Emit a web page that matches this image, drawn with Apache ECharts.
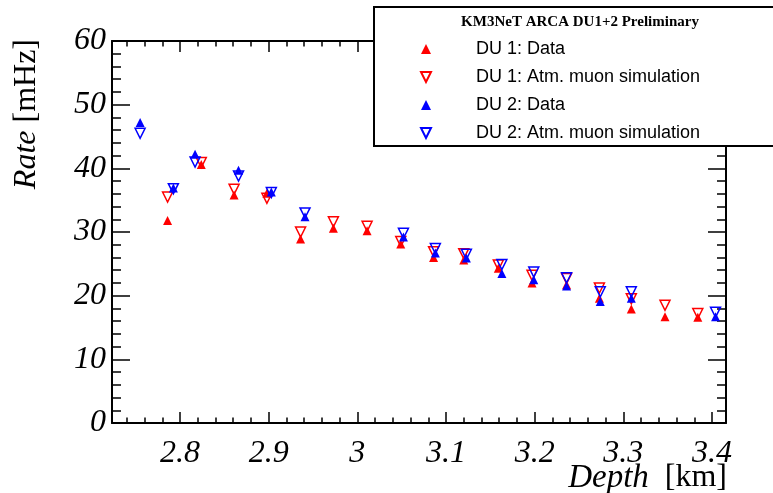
<!DOCTYPE html>
<html>
<head>
<meta charset="utf-8">
<script src="https://cdn.jsdelivr.net/npm/echarts@6/dist/echarts.min.js"></script>
<style>html,body{margin:0;padding:0;background:#fff;}#c{width:773px;height:493px;}</style>
</head>
<body>
<div id="c"></div>
<script>
// ---- data ----
const du1Depth = [2.786, 2.824, 2.861, 2.898, 2.936, 2.973, 3.011, 3.049, 3.086, 3.120, 3.159, 3.197, 3.236, 3.273, 3.309, 3.347, 3.384];
const du1Data  = [31.8, 40.6, 35.8, 36.1, 28.9, 30.6, 30.2, 28.1, 26.0, 25.6, 24.3, 22.0, 21.7, 19.6, 17.9, 16.7, 16.6];
const du1Sim   = [35.5, 40.9, 36.7, 35.3, 30.0, 31.6, 30.9, 28.5, 26.9, 26.6, 24.8, 23.2, 22.7, 21.2, 19.5, 18.5, 17.2];
const du2Depth = [2.755, 2.7925, 2.817, 2.866, 2.903, 2.941, 3.052, 3.088, 3.123, 3.163, 3.199, 3.236, 3.274, 3.309, 3.404];
const du2Data  = [47.2, 36.9, 42.2, 39.7, 36.3, 32.4, 29.2, 26.7, 25.9, 23.5, 22.5, 21.5, 19.1, 19.6, 16.7];
const du2Sim   = [45.5, 36.8, 41.0, 38.8, 36.2, 33.0, 29.8, 27.4, 26.5, 24.9, 23.7, 22.8, 20.6, 20.6, 17.4];
const seriesNames = ['DU 1: Data', 'DU 1: Atm. muon simulation', 'DU 2: Data', 'DU 2: Atm. muon simulation'];
const legendTitle = 'KM3NeT ARCA DU1+2 Preliminary';
const xTitle = 'Depth', xUnit = '[km]';
const yTitle = 'Rate', yUnit = '[mHz]';
const xMin = 2.7233, xMax = 3.4158, yMin = 0, yMax = 60;

const zip = (xs, ys) => xs.map((x, i) => [x, ys[i]]);
const downTri = 'path://M0,0 L20,0 L10,20 Z';
const serif = 'Liberation Serif';
const sans = 'Liberation Sans';

function xAx(pos, step, len, labels, line) {
  return {
    type: 'value', position: pos, min: xMin, max: xMax,
    minInterval: step, maxInterval: step,
    axisLine: {show: line, onZero: false, lineStyle: {color: '#000', width: 2}},
    axisTick: {show: true, inside: true, length: len, lineStyle: {color: '#000', width: 1.5}},
    axisLabel: {show: labels, showMinLabel: false, showMaxLabel: false, margin: 15,
      fontFamily: serif, fontStyle: 'italic', fontSize: 32, color: '#000'},
    splitLine: {show: false}
  };
}
function yAx(pos, labels) {
  return {
    type: 'value', position: pos, min: yMin, max: yMax, interval: 10,
    axisLine: {show: true, onZero: false, lineStyle: {color: '#000', width: 2}},
    axisTick: {show: true, inside: true, length: 18, lineStyle: {color: '#000', width: 1.5}},
    minorTick: {show: true, splitNumber: 5, length: 9, lineStyle: {color: '#000', width: 1.5}},
    axisLabel: {show: labels, margin: 6, fontFamily: serif, fontStyle: 'italic', fontSize: 32, color: '#000'},
    splitLine: {show: false}
  };
}

const chart = echarts.init(document.getElementById('c'), null, {renderer: 'canvas'});
chart.setOption({
  animation: false,
  backgroundColor: '#fff',
  grid: {left: 112, right: 47, top: 41, bottom: 70, containLabel: false},
  xAxis: [xAx('bottom', 0.1, 11, true, true), xAx('bottom', 0.02, 5.5, false, false),
          xAx('top', 0.1, 11, false, true), xAx('top', 0.02, 5.5, false, false)],
  yAxis: [yAx('left', true), yAx('right', false)],
  legend: {
    orient: 'vertical', left: 420, top: 39, padding: 0, z: 6,
    itemWidth: 10, itemHeight: 10, itemGap: 8,
    data: seriesNames,
    textStyle: {fontFamily: sans, fontSize: 18, color: '#000', lineHeight: 20, padding: [0, 0, 0, 40]}
  },
  graphic: [
    {type: 'rect', z: 5, shape: {x: 374, y: 7, width: 420, height: 139},
     style: {fill: '#fff', stroke: '#000', lineWidth: 2}},
    {type: 'text', z: 7, x: 580, y: 22,
     style: {text: legendTitle, fontFamily: serif, fontWeight: 'bold', fontSize: 15, fill: '#000',
       align: 'center', verticalAlign: 'middle', textAlign: 'center', textVerticalAlign: 'middle'}},
    {type: 'text', z: 7, x: 27, y: 39, rotation: Math.PI / 2,
     style: {text: '{i|' + yTitle + '} ' + yUnit, fontFamily: serif, fontSize: 32, fill: '#000',
       rich: {i: {fontFamily: serif, fontStyle: 'italic', fontSize: 32}},
       align: 'right', verticalAlign: 'middle', textAlign: 'right', textVerticalAlign: 'middle'}},
    {type: 'text', z: 7, x: 727, y: 478,
     style: {text: '{i|' + xTitle + '}  ' + xUnit, fontFamily: serif, fontSize: 32, fill: '#000',
       rich: {i: {fontFamily: serif, fontStyle: 'italic', fontSize: 33}},
       align: 'right', verticalAlign: 'middle', textAlign: 'right', textVerticalAlign: 'middle'}}
  ],
  series: [
    {name: seriesNames[0], type: 'scatter', data: zip(du1Depth, du1Data), symbol: 'triangle', symbolSize: 9,
     itemStyle: {color: '#ff0000', opacity: 1}},
    {name: seriesNames[1], type: 'scatter', data: zip(du1Depth, du1Sim), symbol: downTri, symbolSize: 10,
     itemStyle: {color: 'rgba(0,0,0,0)', borderColor: '#ff0000', borderWidth: 1.5, opacity: 1}},
    {name: seriesNames[2], type: 'scatter', data: zip(du2Depth, du2Data), symbol: 'triangle', symbolSize: 9,
     itemStyle: {color: '#0000ff', opacity: 1}},
    {name: seriesNames[3], type: 'scatter', data: zip(du2Depth, du2Sim), symbol: downTri, symbolSize: 10,
     itemStyle: {color: 'rgba(0,0,0,0)', borderColor: '#0000ff', borderWidth: 1.5, opacity: 1}}
  ]
});
</script>
</body>
</html>
